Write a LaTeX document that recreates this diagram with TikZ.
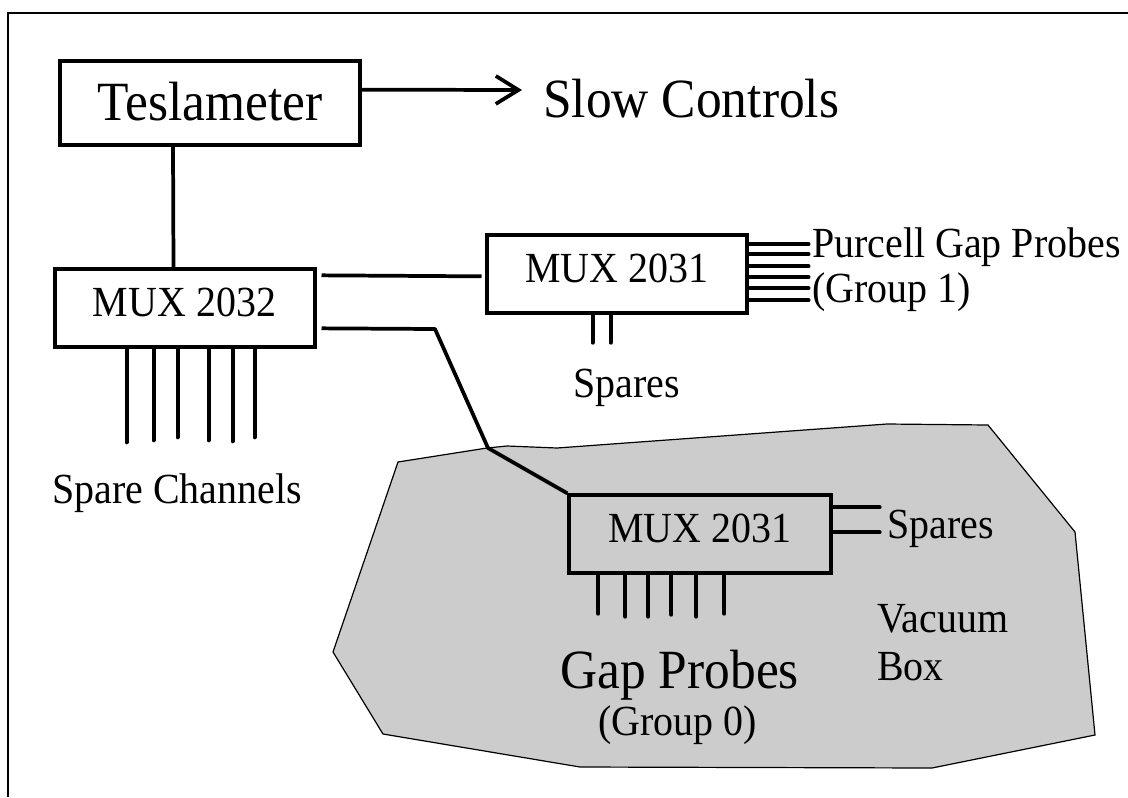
\documentclass[tikz,border=0pt]{standalone}
\usepackage{fontspec}
\setmainfont{Liberation Serif}[FakeStretch=0.93]
\usetikzlibrary{calc,arrows.meta}
\newcommand\fsmall{\fontsize{32.2}{37}\selectfont}
\newcommand\flarge{\fontsize{41.5}{47}\selectfont}
\definecolor{boxgray}{HTML}{CCCCCC}
\begin{document}
\begin{tikzpicture}[x=0.75pt,y=-0.75pt,
  unit/.style={draw,line width=3pt,inner sep=0pt,anchor=base,fill=white},
  lbl/.style={inner sep=0pt,anchor=base west,font=\fsmall},
  wire/.style={line width=2.8pt},
  stub/.style={line width=3pt,line cap=round},
  frameline/.style={line width=1.6pt},
  vacbox/.style={draw=black,line width=0.9pt,fill=boxgray}]
\useasboundingbox (0,0) rectangle (1128,797);
% frame
\draw[frameline] (8,797) -- (8,13) -- (1128,13);
% vacuum box
\draw[vacbox] (398,462) -- (487,448) -- (507,446) -- (557,448) -- (887,424)
  -- (988,425) -- (1075,532) -- (1095,735) -- (932,768) -- (580,767)
  -- (383,734) -- (333,652) -- cycle;
% units
\node[unit,font=\flarge,minimum width=225pt,text height=44.5pt,text depth=18.5pt] (tes) at (210,120) {Teslameter};
\node[unit,font=\fsmall,minimum width=195pt,text height=35pt,text depth=23.5pt] (m2) at (184.5,316) {MUX 2032};
\node[unit,font=\fsmall,minimum width=195pt,text height=35pt,text depth=23pt] (m1a) at (616.5,282) {MUX 2031};
\node[unit,font=\fsmall,fill=boxgray,minimum width=196pt,text height=35pt,text depth=23pt] (m1b) at (700,542) {MUX 2031};
% labels
\node[lbl,font=\flarge] (slow) at (543,117) {Slow Controls};
\node[lbl] (spch) at (52,503) {Spare Channels};
\node[lbl] (spa) at (573,397) {Spares};
\node[lbl] (pur) at (812,257) {Purcell Gap Probes};
\node[lbl] (g1) at (812,302) {(Group 1)};
\node[lbl] (spb) at (887,538) {Spares};
\node[lbl,font=\flarge] (gap) at (560,688) {Gap Probes};
\node[lbl] (g0) at (598,735) {(Group 0)};
\node[lbl] (vac) at (877,632) {Vacuum};
\node[lbl] (vbox) at (877,680) {Box};
% connectors
\coordinate (sc) at (522,90);
\draw[wire,-{Straight Barb[length=17pt,width=21pt]}] ($(tes.north east)+(0,31)$) -- (sc);
\draw[wire] ($(tes.south west)+(115,0)$) -- ($(m2.north west)+(121,0)$);
\draw[wire] ($(m2.north east)+(5,8)$) -- ($(m1a.north west)+(-3,43)$);
\coordinate (b1) at (435,329);
\coordinate (b2) at (488,448);
\draw[wire,line join=round] ($(m2.north east)+(5,61)$) -- (b1) -- (b2) -- (m1b.north west);
% spare channel stubs
\foreach \dx/\len in {74/93,101/91,125/88,156/91,180/92,202/88}
  \draw[stub] ($(m2.south west)+(\dx,0)$) -- ++(0,\len);
% purcell probes
\foreach \dy in {11,21,33,44,55,67}
  \draw[stub] ($(m1a.north east)+(0,\dy)$) -- ++(60,0);
% spares under m1a
\foreach \dx in {108,126}
  \draw[stub] ($(m1a.south west)+(\dx,0)$) -- ++(0,28);
% gap probes
\foreach \dx/\len in {31/39,58/42,81/42,104/40,129/42,157/39}
  \draw[stub] ($(m1b.south west)+(\dx,0)$) -- ++(0,\len);
% spares right of m1b
\foreach \dy in {14,39}
  \draw[stub] ($(m1b.north east)+(0,\dy)$) -- ++(47,0);
\end{tikzpicture}
\end{document}
